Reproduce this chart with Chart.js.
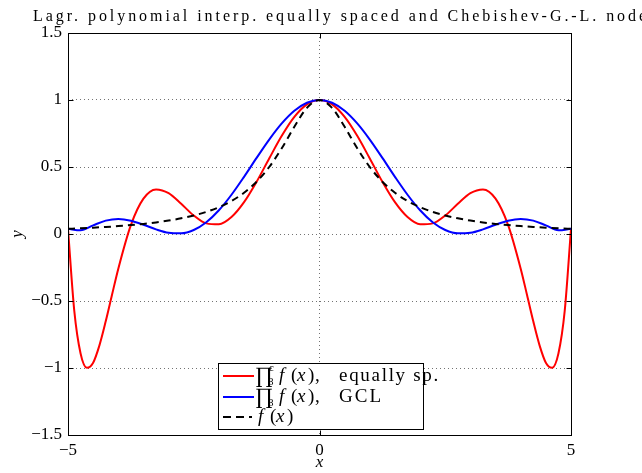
<!DOCTYPE html>
<html>
<head>
<meta charset="utf-8">
<script src="https://cdn.jsdelivr.net/npm/chart.js@4.4.0/dist/chart.umd.min.js"></script>
<style>
  html, body { margin: 0; padding: 0; background: #fff; }
  #wrap { width: 642px; height: 473px; }
</style>
</head>
<body>
<div id="wrap"><canvas id="chart" width="642" height="473"></canvas></div>
<script>
// Chart text
const titleText = 'Lagr. polynomial interp. equally spaced and Chebishev-G.-L. nodes';
const legendNames = ['equally sp.', 'GCL', ''];

// Axis ticks
const xTicks = [-5, 0, 5];
const yTicks = [-1.5, -1, -0.5, 0, 0.5, 1, 1.5];

// Interpolant on equally spaced nodes (red)
const xEqui = [-5, -4.875, -4.75, -4.625, -4.5, -4.375, -4.25, -4.125, -4, -3.75, -3.5, -3.25, -3, -2.75, -2.5, -2.25,
  -2, -1.75, -1.5, -1.25, -1, -0.75, -0.5, -0.25, 0, 0.25, 0.5, 0.75, 1, 1.25, 1.5, 1.75, 2, 2.25, 2.5, 2.75,
  3, 3.25, 3.5, 3.75, 4, 4.125, 4.25, 4.375, 4.5, 4.625, 4.75, 4.875, 5];
const yEqui = [0.0385, -0.5740, -0.8916, -0.9980, -0.9601, -0.8310, -0.6519, -0.4537, -0.2587, 0.0664, 0.2638, 0.3327,
  0.3049, 0.2251, 0.1379, 0.0794, 0.0726, 0.1266, 0.2374, 0.3902, 0.5636, 0.7328, 0.8740, 0.9674, 1,
  0.9674, 0.8740, 0.7328, 0.5636, 0.3902, 0.2374, 0.1266, 0.0726, 0.0794, 0.1379, 0.2251, 0.3049, 0.3327,
  0.2638, 0.0664, -0.2587, -0.4537, -0.6519, -0.8310, -0.9601, -0.9980, -0.8916, -0.5740, 0.0385];

// Sample points for the GCL interpolant and f(x)
const xGrid = [-5, -4.75, -4.5, -4.25, -4, -3.75, -3.5, -3.25, -3, -2.75, -2.5, -2.25, -2, -1.75, -1.5, -1.25, -1,
  -0.75, -0.5, -0.25, 0, 0.25, 0.5, 0.75, 1, 1.25, 1.5, 1.75, 2, 2.25, 2.5, 2.75, 3, 3.25, 3.5, 3.75, 4,
  4.25, 4.5, 4.75, 5];
const yGcl = [0.0385, 0.0276, 0.0644, 0.0997, 0.1123, 0.0995, 0.0692, 0.0345, 0.0092, 0.0050, 0.0300, 0.0877,
  0.1771, 0.2929, 0.4267, 0.5678, 0.7044, 0.8250, 0.9194, 0.9794, 1, 0.9794, 0.9194, 0.8250, 0.7044, 0.5678,
  0.4267, 0.2929, 0.1771, 0.0877, 0.0300, 0.0050, 0.0092, 0.0345, 0.0692, 0.0995, 0.1123, 0.0997, 0.0644,
  0.0276, 0.0385];
const yRunge = [0.0385, 0.0424, 0.0471, 0.0525, 0.0588, 0.0664, 0.0755, 0.0865, 0.1, 0.1168, 0.1379, 0.1649, 0.2,
  0.2462, 0.3077, 0.3902, 0.5, 0.64, 0.8, 0.9412, 1, 0.9412, 0.8, 0.64, 0.5, 0.3902, 0.3077, 0.2462, 0.2,
  0.1649, 0.1379, 0.1168, 0.1, 0.0865, 0.0755, 0.0664, 0.0588, 0.0525, 0.0471, 0.0424, 0.0385];

const SERIF = '"Liberation Serif", "DejaVu Serif", serif';

function pts(xs, ys) {
  return xs.map((v, i) => ({ x: v, y: ys[i] }));
}

function fmtTick(v) {
  return v < 0 ? '\u2212' + String(-v) : String(v);
}

// draw text so that it ends at xEnd, spreading letters like the TeX font
function spreadText(ctx, s, x0, xEnd, yb) {
  ctx.letterSpacing = '0px';
  const w = ctx.measureText(s).width;
  ctx.letterSpacing = Math.max(0, (xEnd - x0 - w) / s.length).toFixed(2) + 'px';
  ctx.fillText(s, x0, yb);
  ctx.letterSpacing = '0px';
}

// f(x) in TeX style, starting at x0
function drawFx(ctx, x0, yb) {
  ctx.font = 'italic 19px ' + SERIF;
  ctx.fillText('f', x0, yb);
  ctx.font = '19px ' + SERIF;
  ctx.fillText('(', x0 + 12, yb);
  ctx.font = 'italic 19px ' + SERIF;
  ctx.fillText('x', x0 + 18, yb);
  ctx.font = '19px ' + SERIF;
  ctx.fillText(')', x0 + 29, yb);
}

// Title, axes box with inward ticks, and the legend
const decorPlugin = {
  id: 'decor',
  afterDraw(chart) {
    const { ctx, chartArea: a, scales: { x, y } } = chart;
    ctx.save();

    // title (runs past the right edge as in the original)
    ctx.fillStyle = '#000';
    ctx.textBaseline = 'alphabetic';
    ctx.textAlign = 'left';
    ctx.font = '16px ' + SERIF;
    const visible = titleText.slice(0, -2);
    const w0 = ctx.measureText(visible).width;
    ctx.letterSpacing = ((606 - w0) / visible.length).toFixed(2) + 'px';
    ctx.fillText(titleText, 33, 21);
    ctx.letterSpacing = '0px';

    // box
    const L = Math.round(a.left) + 0.5, R = Math.round(a.right) + 0.5;
    const T = Math.round(a.top) + 0.5, B = Math.round(a.bottom) + 0.5;
    ctx.strokeStyle = '#000';
    ctx.lineWidth = 1;
    ctx.setLineDash([]);
    ctx.strokeRect(L, T, R - L, B - T);
    ctx.beginPath();
    xTicks.forEach(v => {
      const px = Math.round(x.getPixelForValue(v)) + 0.5;
      ctx.moveTo(px, B); ctx.lineTo(px, B - 5);
      ctx.moveTo(px, T); ctx.lineTo(px, T + 5);
    });
    yTicks.forEach(v => {
      const py = Math.round(y.getPixelForValue(v)) + 0.5;
      ctx.moveTo(L, py); ctx.lineTo(L + 5, py);
      ctx.moveTo(R, py); ctx.lineTo(R - 5, py);
    });
    ctx.stroke();

    // legend
    ctx.fillStyle = '#fff';
    ctx.fillRect(218.5, 363.5, 205, 66);
    ctx.strokeRect(218.5, 363.5, 205, 66);
    const rows = [376, 397, 417];
    const ends = [440, 383, 0];
    chart.data.datasets.forEach((ds, i) => {
      const ry = rows[i];
      const dashed = !!ds.borderDash;
      ctx.strokeStyle = ds.borderColor;
      ctx.lineWidth = 2;
      ctx.setLineDash(dashed ? [8, 5] : []);
      ctx.beginPath();
      ctx.moveTo(223, ry); ctx.lineTo(dashed ? 252 : 254, ry);
      ctx.stroke();
      ctx.setLineDash([]);
      ctx.fillStyle = '#000';
      const base = ry + 5;
      if (i < 2) {
        ctx.font = '22px ' + SERIF;
        ctx.fillText('\u220F', 255, base + 1);
        ctx.font = '11px ' + SERIF;
        ctx.fillText('8', 268, base + 4);
        if (i === 0) ctx.fillText('c', 269, base - 10);
        drawFx(ctx, 279, base);
        ctx.font = '19px ' + SERIF;
        ctx.fillText(',', 315, base);
        spreadText(ctx, legendNames[i], 339, ends[i], base);
      } else {
        drawFx(ctx, 258, base);
      }
    });
    ctx.restore();
  }
};

const ctx = document.getElementById('chart').getContext('2d');

new Chart(ctx, {
  type: 'line',
  data: {
    datasets: [
      {
        label: 'equally sp.',
        data: pts(xEqui, yEqui),
        borderColor: '#ff0000',
        borderWidth: 2,
        order: 3
      },
      {
        label: 'GCL',
        data: pts(xGrid, yGcl),
        borderColor: '#0000ff',
        borderWidth: 2,
        order: 2
      },
      {
        label: 'f(x)',
        data: pts(xGrid, yRunge),
        borderColor: '#000000',
        borderWidth: 2,
        borderDash: [7, 5],
        order: 1
      }
    ]
  },
  options: {
    responsive: false,
    animation: false,
    layout: { padding: { top: 33, right: 71, left: 0, bottom: 0 } },
    elements: {
      point: { radius: 0 },
      line: { cubicInterpolationMode: 'monotone', fill: false }
    },
    plugins: {
      legend: { display: false },
      tooltip: { enabled: false }
    },
    scales: {
      x: {
        type: 'linear',
        min: -5,
        max: 5,
        afterBuildTicks: s => { s.ticks = xTicks.map(v => ({ value: v })); },
        afterFit: s => { s.height = 38; },
        ticks: {
          callback: v => fmtTick(v),
          color: '#000',
          font: { family: SERIF, size: 17 },
          padding: 5,
          maxRotation: 0
        },
        grid: { color: 'rgba(0,0,0,0.55)', lineWidth: 1, drawTicks: false },
        border: { display: false, dash: [1, 3] },
        title: {
          display: true,
          text: 'x',
          color: '#000',
          font: { family: SERIF, size: 17, style: 'italic' },
          padding: 0
        }
      },
      y: {
        min: -1.5,
        max: 1.5,
        afterBuildTicks: s => { s.ticks = yTicks.map(v => ({ value: v })); },
        afterFit: s => { s.width = 68; },
        ticks: {
          callback: v => fmtTick(v),
          color: '#000',
          font: { family: SERIF, size: 17 },
          padding: 6
        },
        grid: { color: 'rgba(0,0,0,0.55)', lineWidth: 1, drawTicks: false },
        border: { display: false, dash: [1, 3] },
        title: {
          display: true,
          text: 'y',
          color: '#000',
          font: { family: SERIF, size: 17, style: 'italic' },
          padding: { top: 7, bottom: 0 }
        }
      }
    }
  },
  plugins: [decorPlugin]
});
</script>
</body>
</html>
